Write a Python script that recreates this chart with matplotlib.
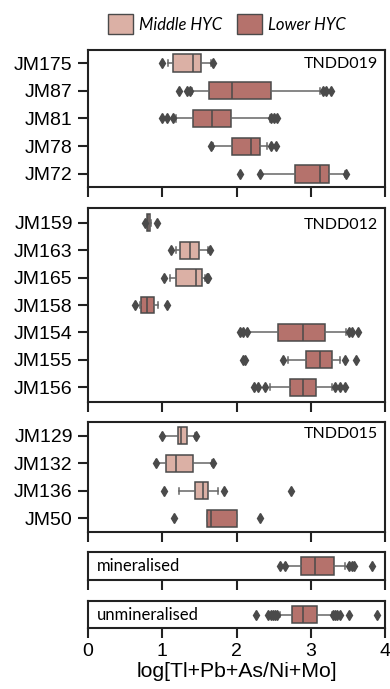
import numpy as np
import matplotlib.pyplot as plt
from matplotlib.patches import Patch

# 色
c_mid = "#dbb0a5"
c_low = "#b5726c"
c_edge = "#4a4a4a"

# パネルごとのデータ (q1, med, q3, whislo, whishi, fliers, group)
p1_names = ["JM175", "JM87", "JM81", "JM78", "JM72"]
p1_q1 = [1.15, 1.63, 1.42, 1.94, 2.79]
p1_med = [1.42, 1.94, 1.67, 2.19, 3.12]
p1_q3 = [1.52, 2.47, 1.93, 2.31, 3.24]
p1_lo = [1.08, 1.40, 1.19, 1.69, 2.31]
p1_hi = [1.65, 3.13, 2.45, 2.41, 3.46]
p1_fl = [[1.00, 1.69], [1.23, 1.33, 1.37, 3.16, 3.21, 3.27], [0.99, 1.06, 1.14, 2.47, 2.51, 2.55],
         [1.66, 2.46, 2.53], [2.05, 2.31, 3.47]]
p1_grp = ["mid", "low", "low", "low", "low"]

p2_names = ["JM159", "JM163", "JM165", "JM158", "JM154", "JM155", "JM156"]
p2_q1 = [0.79, 1.24, 1.19, 0.72, 2.56, 2.94, 2.72]
p2_med = [0.81, 1.38, 1.45, 0.79, 2.89, 3.12, 2.89]
p2_q3 = [0.835, 1.49, 1.54, 0.89, 3.19, 3.28, 3.07]
p2_lo = [0.78, 1.19, 1.11, 0.70, 2.16, 2.70, 2.45]
p2_hi = [0.85, 1.62, 1.58, 0.94, 3.48, 3.40, 3.28]
p2_fl = [[0.77, 0.925], [1.12, 1.64], [1.02, 1.60, 1.62], [0.63, 1.07],
         [2.05, 2.09, 2.14, 3.51, 3.56, 3.64], [2.09, 2.11, 2.62, 3.46, 3.61],
         [2.24, 2.29, 2.38, 3.32, 3.39, 3.46]]
p2_grp = ["mid", "mid", "mid", "low", "low", "low", "low"]

p3_names = ["JM129", "JM132", "JM136", "JM50"]
p3_q1 = [1.21, 1.05, 1.44, 1.60]
p3_med = [1.25, 1.18, 1.55, 1.66]
p3_q3 = [1.34, 1.41, 1.62, 2.00]
p3_lo = [1.00, 0.92, 1.22, 1.60]
p3_hi = [1.44, 1.67, 1.75, 2.00]
p3_fl = [[0.99, 1.45], [0.91, 1.69], [1.02, 1.83, 2.73], [1.16, 2.31]]
p3_grp = ["mid", "mid", "mid", "low"]

p4_names = ["mineralised"]
p4_q1 = [2.87]
p4_med = [3.06]
p4_q3 = [3.31]
p4_lo = [2.67]
p4_hi = [3.46]
p4_fl = [[2.58, 2.65, 3.51, 3.55, 3.58, 3.83]]
p4_grp = ["low"]

p5_names = ["unmineralised"]
p5_q1 = [2.75]
p5_med = [2.90]
p5_q3 = [3.09]
p5_lo = [2.59]
p5_hi = [3.28]
p5_fl = [[2.26, 2.43, 2.46, 2.49, 2.52, 2.55, 3.30, 3.33, 3.36, 3.39, 3.51, 3.89]]
p5_grp = ["low"]

xticks = [0, 1, 2, 3, 4]

fig = plt.figure(figsize=(3.9, 6.89), dpi=100)
H = 689.0
W = 390.0


def make_ax(top, bottom):
    return fig.add_axes([88 / W, 1 - bottom / H, 297 / W, (bottom - top) / H])


def draw(ax, names, q1, med, q3, lo, hi, fl, grp, label=None, yt=True, pad=0.47):
    stats = []
    for i in range(len(names)):
        stats.append(dict(med=med[i], q1=q1[i], q3=q3[i], whislo=lo[i], whishi=hi[i], fliers=fl[i]))
    pos = np.arange(len(names))
    b = ax.bxp(stats, positions=pos, vert=False, widths=0.62, patch_artist=True,
               capwidths=0.22,
               boxprops=dict(edgecolor=c_edge, linewidth=1.1),
               medianprops=dict(color=c_edge, linewidth=1.1),
               whiskerprops=dict(color="#666666", linewidth=1.1),
               capprops=dict(color="#666666", linewidth=1.1),
               flierprops=dict(marker="d", markersize=5, markerfacecolor=c_edge,
                               markeredgecolor=c_edge))
    for patch, g in zip(b["boxes"], grp):
        patch.set_facecolor(c_mid if g == "mid" else c_low)
    ax.set_ylim(len(names) - 1 + pad, -pad)
    ax.set_xlim(0, 4)
    ax.set_xticks(xticks)
    ax.set_xticklabels([])
    if yt:
        ax.set_yticks(pos)
        ax.set_yticklabels(names, fontsize=14, family="Liberation Sans")
    else:
        ax.set_yticks([])
    for s in ax.spines.values():
        s.set_linewidth(1.5)
        s.set_color("#222222")
    ax.tick_params(axis="both", direction="out", length=7.5, width=1.5, color="#222222")
    if label:
        ax.text(0.975, 0.95, label, transform=ax.transAxes, ha="right",
                va="top", fontsize=11.5, family="Lato")


ax1 = make_ax(50, 187)
draw(ax1, p1_names, p1_q1, p1_med, p1_q3, p1_lo, p1_hi, p1_fl, p1_grp, "TNDD019")
ax2 = make_ax(208, 402)
draw(ax2, p2_names, p2_q1, p2_med, p2_q3, p2_lo, p2_hi, p2_fl, p2_grp, "TNDD012", pad=0.54)
ax3 = make_ax(422, 532)
draw(ax3, p3_names, p3_q1, p3_med, p3_q3, p3_lo, p3_hi, p3_fl, p3_grp, "TNDD015", pad=0.5)
ax4 = make_ax(552, 580)
draw(ax4, p4_names, p4_q1, p4_med, p4_q3, p4_lo, p4_hi, p4_fl, p4_grp, yt=False, pad=0.5)
ax4.text(0.03, 0.5, "mineralised", transform=ax4.transAxes, ha="left", va="center",
         fontsize=12, family="Lato")
ax5 = make_ax(601, 628)
draw(ax5, p5_names, p5_q1, p5_med, p5_q3, p5_lo, p5_hi, p5_fl, p5_grp, yt=False, pad=0.5)
ax5.text(0.03, 0.5, "unmineralised", transform=ax5.transAxes, ha="left", va="center",
         fontsize=12, family="Lato")

ax5.set_xticklabels([str(t) for t in xticks], fontsize=14, family="Liberation Sans")
ax5.set_xlabel("log[Tl+Pb+As/Ni+Mo]", fontsize=15.3, family="Liberation Sans", labelpad=1)

handles = [Patch(facecolor=c_mid, edgecolor=c_edge, linewidth=1.0, label="Middle HYC"),
           Patch(facecolor=c_low, edgecolor=c_edge, linewidth=1.0, label="Lower HYC")]
fig.legend(handles=handles, loc="center", bbox_to_anchor=(227 / W, 1 - 24 / H), ncol=2,
           frameon=False, prop=dict(family="Lato", style="italic", size=12),
           handlelength=1.5, handleheight=1.45, handletextpad=0.4, columnspacing=0.85,
           borderpad=0.2)

plt.savefig("out.png", dpi=100)
